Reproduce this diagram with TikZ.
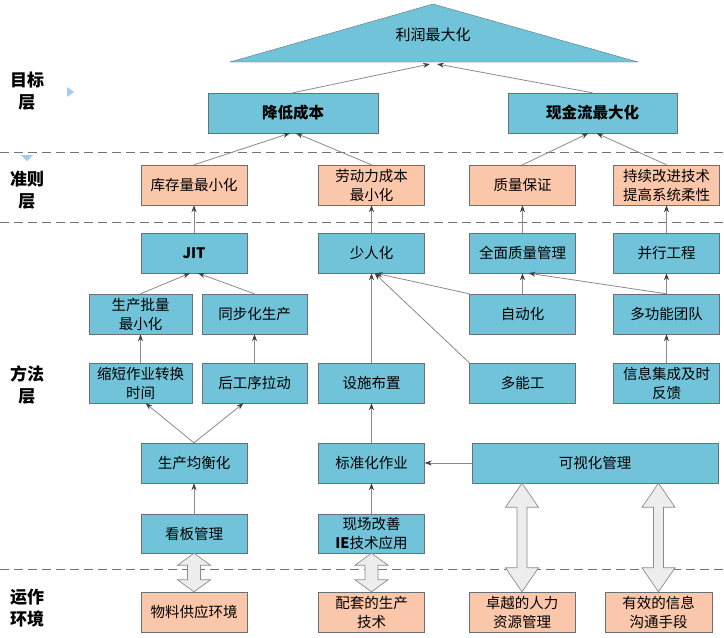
\documentclass[tikz,border=0pt]{standalone}
\usepackage{fontspec}
\newfontfamily\cjk{Noto Sans CJK SC}
\usetikzlibrary{arrows.meta,calc}
\definecolor{BoxClr}{RGB}{112,195,216}
\definecolor{CritClr}{RGB}{251,199,170}
\definecolor{EdgeClr}{RGB}{105,112,118}
\definecolor{LinkClr}{RGB}{138,138,138}
\definecolor{MarkClr}{RGB}{160,204,240}

\tikzset{
  box/.style={draw=EdgeClr,fill=BoxClr,minimum width=106pt,minimum height=40pt,
    inner sep=1pt,align=center,font=\cjk\fontsize{14.5}{19}\selectfont},
  crit/.style={box,fill=CritClr},
  goal/.style={box,minimum width=170pt,font=\cjk\bfseries\fontsize{15.5}{19}\selectfont},
  layer/.style={align=center,font=\cjk\bfseries\fontsize{17}{22}\selectfont},
  link/.style={draw=LinkClr,line width=0.8pt,-{Stealth[length=7pt,width=5pt,color=black!75]}},
  sepline/.style={draw=black!55,line width=1pt,dash pattern=on 9pt off 5pt},
  blockarr/.style={draw=black!45,fill=black!7,line width=0.7pt},
}
% double block arrow: top, bottom, head length, half shaft
\newcommand{\blockarrow}[4]{%
  \path[blockarr] let \p1=(#1), \p2=(#2) in
    (\x1,\y1) -- (\x1+16.5pt,\y1-#3pt) -- (\x1+#4pt,\y1-#3pt) -- (\x1+#4pt,\y2+#3pt)
    -- (\x1+16.5pt,\y2+#3pt) -- (\x1,\y2) -- (\x1-16.5pt,\y2+#3pt) -- (\x1-#4pt,\y2+#3pt)
    -- (\x1-#4pt,\y1-#3pt) -- (\x1-16.5pt,\y1-#3pt) -- cycle;}

\begin{document}
\begin{tikzpicture}[x=1pt,y=-1pt]
\useasboundingbox (0,0) rectangle (724,638);

\draw[sepline] (0,152) -- (724,152);
\draw[sepline] (0,222) -- (724,222);
\draw[sepline] (0,569) -- (724,569);

\fill[MarkClr] (67,87) -- (74,92) -- (67,97) -- cycle;
\fill[MarkClr] (21,155) -- (33,155) -- (27,161) -- cycle;

\node[layer] (L1) at (27,91) {目标\\层};
\node[layer] (L2) at (27,190) {准则\\层};
\node[layer] (L3) at (27,385) {方法\\层};
\node[layer] (L4) at (27,608) {运作\\环境};

\filldraw[draw=EdgeClr,fill=BoxClr] (230,62) -- (433,4) -- (638,62) -- cycle;
\node[font=\cjk\fontsize{15}{19}\selectfont] (Profit) at (433,35) {利润最大化};
\coordinate (PL) at (430,64);
\coordinate (PR) at (437,64);

\node[goal] (Cost) at (293,113) {降低成本};
\node[goal,minimum width=169pt] (Cash) at (592.5,113) {现金流最大化};

\node[crit] (Inv) at (194,185) {库存量最小化};
\node[crit] (Lab) at (371.5,185) {劳动力成本\\最小化};
\node[crit] (Qual) at (522.5,185) {质量保证};
\node[crit] (Impr) at (666.5,185) {持续改进技术\\提高系统柔性};

\node[box] (JIT) at (194,253) {\bfseries JIT};
\node[box] (Shr) at (371.5,253) {少人化};
\node[box] (TQM) at (522.5,253) {全面质量管理};
\node[box] (CE) at (666.5,253) {并行工程};

\node[box,minimum width=103pt] (Lot) at (140.5,314) {生产批量\\最小化};
\node[box,minimum width=105pt] (Sync) at (254.5,314) {同步化生产};
\node[box] (Auto) at (522.5,314) {自动化};
\node[box] (Team) at (666.5,314) {多功能团队};

\node[box,minimum width=103pt] (SMED) at (140.5,383) {缩短作业转换\\时间};
\node[box,minimum width=105pt] (Pull) at (254.5,383) {后工序拉动};
\node[box] (Lay) at (371.5,383) {设施布置};
\node[box] (Multi) at (522.5,383) {多能工};
\node[box] (Info) at (666.5,383) {信息集成及时\\反馈};

\node[box] (Lev) at (194,463) {生产均衡化};
\node[box] (Std) at (371.5,463) {标准化作业};
\node[box,minimum width=246pt] (Vis) at (595,463) {可视化管理};

\node[box,minimum height=39pt] (Kan) at (194,533.5) {看板管理};
\node[box,minimum height=39pt] (IE) at (371.5,533.5) {现场改善\\{\bfseries IE}技术应用};

\node[crit] (Mat) at (194,612) {物料供应环境};
\node[crit] (Tech) at (371.5,612) {配套的生产\\技术};
\node[crit] (HR) at (522,612) {卓越的人力\\资源管理};
\node[crit,minimum width=107pt] (Com) at (658.5,612) {有效的信息\\沟通手段};

\draw[link] (Cost.north) -- (PL);
\draw[link] (Cash.north) -- (PR);
\draw[link] (Inv.north) -- ([xshift=-3pt]Cost.south);
\draw[link] (Lab.north) -- ([xshift=3pt]Cost.south);
\draw[link] (Qual.north) -- ([xshift=-4pt]Cash.south);
\draw[link] (Impr.north) -- ([xshift=4pt]Cash.south);
\draw[link] (JIT) -- (Inv);
\draw[link] (Shr) -- (Lab);
\draw[link] (TQM) -- (Qual);
\draw[link] (CE) -- (Impr);
\draw[link] (Lot.north) -- ([xshift=-4pt]JIT.south);
\draw[link] (Sync.north) -- ([xshift=4pt]JIT.south);
\draw[link] (Auto) -- (TQM);
\draw[link] (Team) -- (CE);
\draw[link] (Team.north) -- ([xshift=6pt]TQM.south);
\draw[link] (Auto.north west) -- ([xshift=4pt]Shr.south);
\draw[link] (Multi.north west) -- ([xshift=3pt]Shr.south);
\draw[link] (Lay) -- (Shr);
\draw[link] (SMED) -- (Lot);
\draw[link] (Pull) -- (Sync);
\draw[link] (Info) -- (Team);
\draw[link] (Lev.north) -- ([xshift=5pt]SMED.south);
\draw[link] (Lev.north) -- ([xshift=-11pt]Pull.south);
\draw[link] (Std) -- (Lay);
\draw[link] (Kan) -- (Lev);
\draw[link] (IE) -- (Std);
\draw[link] (Vis) -- (Std);

\blockarrow{Kan.south}{Mat.north}{12}{6.5}
\blockarrow{IE.south}{Tech.north}{12}{6.5}
\blockarrow{HR.north |- Vis.south}{HR.north}{24}{5}
\blockarrow{Com.north |- Vis.south}{Com.north}{24}{5}

\end{tikzpicture}
\end{document}
